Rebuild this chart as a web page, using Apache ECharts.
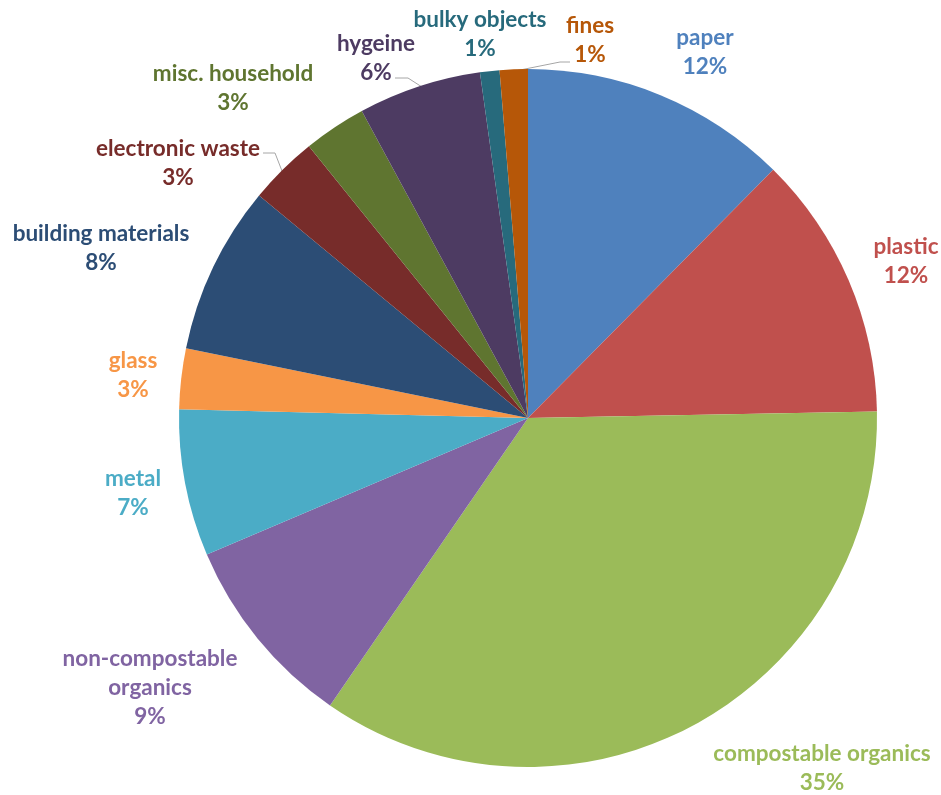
<!DOCTYPE html>
<html>
<head>
<meta charset="utf-8">
<script src="https://cdn.jsdelivr.net/npm/echarts@6/dist/echarts.min.js"></script>
<style>
  html, body { margin: 0; padding: 0; background: #fff; }
  #main { width: 941px; height: 795px; }
</style>
</head>
<body>
<div id="main"></div>
<script>
// waste composition, clockwise from 12 o'clock
var categories = ["paper", "plastic", "compostable organics", "non-compostable organics", "metal", "glass",
  "building materials", "electronic waste", "misc. household", "hygeine", "bulky objects", "fines"];
var shares = [12.4, 12.3, 34.9, 9.0, 6.8, 2.8, 7.8, 3.2, 2.9, 5.7, 0.9, 1.3];
var colors = ["#4F81BD", "#C0504D", "#9BBB59", "#8064A2", "#4BACC6", "#F79646",
  "#2C4D75", "#772C2A", "#5F7530", "#4D3B62", "#276A7C", "#B65708"];

// where each label sits (text centre) and leader lines, as placed in the original
var labelSpots = [
  [705, 52], [906, 261], [822, 768], [150, 688], [133, 493], [133, 375],
  [101, 248], [178, 163], [233, 88], [376, 58], [480, 34], [590, 40]
];
var leaders = {
  7: [[282, 171], [275, 153], [263, 153]],
  9: [[422, 87], [408, 78], [395, 78]],
  11: [[515, 71], [560, 62], [570, 62]]
};

var chart = echarts.init(document.getElementById("main"));

var pieData = [];
for (var i = 0; i < categories.length; i++) {
  pieData.push({
    name: categories[i],
    value: shares[i],
    itemStyle: { color: colors[i] },
    labelLine: { show: !!leaders[i] }
  });
}

chart.setOption({
  animation: false,
  series: [
    {
      type: "pie",
      center: [528, 418],
      radius: 349,
      startAngle: 90,
      clockwise: true,
      avoidLabelOverlap: false,
      data: pieData,
      itemStyle: { borderWidth: 0 },
      label: {
        show: true,
        position: "outside",
        color: "inherit",
        fontFamily: "Lato",
        fontWeight: "bold",
        fontSize: 22.5,
        lineHeight: 29,
        formatter: function(p) {
          var name = p.name.replace("non-compostable ", "non-compostable\n");
          return name + "\n" + Math.round(p.percent) + "%";
        }
      },
      labelLine: {
        lineStyle: { color: "#A6A6A6", width: 1 }
      },
      labelLayout: function(params) {
        var s = labelSpots[params.dataIndex];
        var out = { x: s[0], y: s[1], align: "center", verticalAlign: "middle" };
        if (leaders[params.dataIndex]) out.labelLinePoints = leaders[params.dataIndex];
        return out;
      }
    }
  ]
});
</script>
</body>
</html>
